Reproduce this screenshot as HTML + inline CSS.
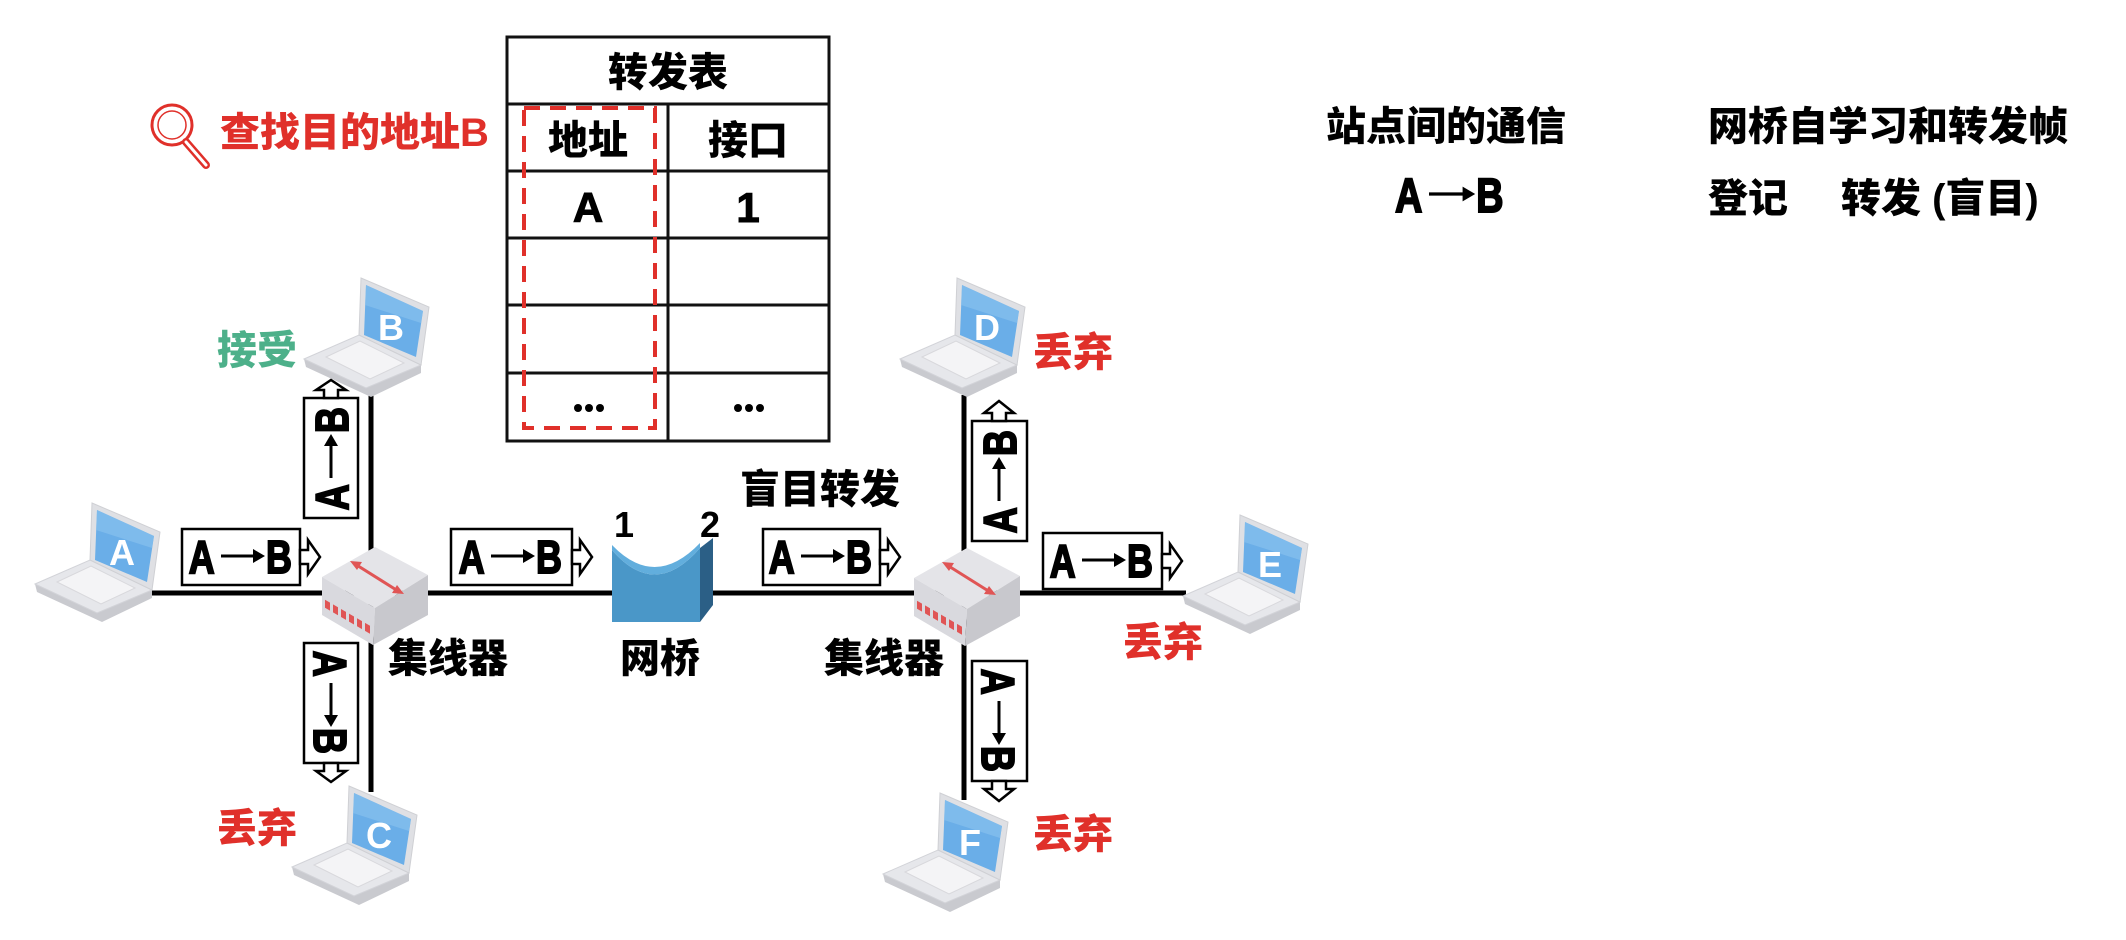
<!DOCTYPE html>
<html><head><meta charset="utf-8"><style>
html,body{margin:0;padding:0;background:#fff}
svg{display:block}
text{font-family:"Liberation Sans","Noto Sans CJK SC",sans-serif;font-weight:900}
</style></head><body>
<svg width="2126" height="940" viewBox="0 0 2126 940" xmlns="http://www.w3.org/2000/svg">
<defs>
<g id="lap">
  <polygon points="2,92 67,122 117,98 117,90 62,113 0,84" fill="#c9cacf"/>
  <polygon points="0,84 55,60 117,90 62,113" fill="#e6e7eb" stroke="#d2d3d8"/>
  <polygon points="22,82 56,66 100,88 66,104" fill="#f4f4f6" stroke="#d8d8dc"/>
  <polygon points="57,3 125,32 117,90 55,60" fill="#dfe0e4" stroke="#cfd0d4"/>
  <polygon points="62,10 119,36 112,82 60,60" fill="#6aaee8"/>
  <polygon points="62,10 119,36 117,48 61,30" fill="#8cc3ef" opacity="0.6"/>
</g>
<g id="hub">
  <polygon points="0,30 53,0 106,28 53,61" fill="#e4e4e8"/>
  <polygon points="0,30 53,61 51,98 0,68" fill="#d9d9de"/>
  <polygon points="53,61 106,28 106,68 51,98" fill="#c8c8cd"/>
  <line x1="33" y1="17" x2="76" y2="44" stroke="#e05555" stroke-width="3"/>
  <polygon points="28,14 40,15 35,23" fill="#e05555"/>
  <polygon points="82,47 70,46 75,38" fill="#e05555"/>
  <g fill="#e05555">
    <rect x="3" y="53" width="5" height="8" transform="skewY(30) translate(0,-2)"/>
    <rect x="11" y="53" width="5" height="8" transform="skewY(30) translate(0,-2)"/>
    <rect x="19" y="53" width="5" height="8" transform="skewY(30) translate(0,-2)"/>
    <rect x="27" y="53" width="5" height="8" transform="skewY(30) translate(0,-2)"/>
    <rect x="35" y="53" width="5" height="8" transform="skewY(30) translate(0,-2)"/>
    <rect x="43" y="53" width="5" height="8" transform="skewY(30) translate(0,-2)"/>
  </g>
</g>
<g id="ab">
  <g transform="scale(0.78,1)" font-size="46" fill="#000" stroke="#000" stroke-width="2" font-family="Liberation Sans, sans-serif" font-weight="700">
    <text x="-67" y="17">A</text>
    <text x="32" y="17">B</text>
  </g>
  <line x1="-20" y1="0" x2="18" y2="0" stroke="#000" stroke-width="3"/>
  <polygon points="12,-7 24,0 12,7" fill="#000"/>
</g>
</defs>

<!-- table -->
<g stroke="#111" stroke-width="3" fill="none">
  <rect x="507" y="37" width="322" height="404"/>
  <line x1="507" y1="104" x2="829" y2="104"/>
  <line x1="507" y1="171" x2="829" y2="171"/>
  <line x1="507" y1="238" x2="829" y2="238"/>
  <line x1="507" y1="305" x2="829" y2="305"/>
  <line x1="507" y1="373" x2="829" y2="373"/>
  <line x1="668" y1="104" x2="668" y2="441"/>
</g>
<rect x="524" y="108" width="131" height="320" fill="none" stroke="#e0302a" stroke-width="4" stroke-dasharray="16,10"/>
<g font-size="40" text-anchor="middle" fill="#000">
  <text x="668" y="86">转发表</text>
  <text x="588" y="154">地址</text>
  <text x="748" y="154">接口</text>
  <text x="588" y="222" font-size="42" stroke="#000" stroke-width="1">A</text>
  <text x="748" y="222" font-size="42" stroke="#000" stroke-width="1">1</text>
</g>
<g fill="#000">
  <circle cx="578" cy="408" r="4"/><circle cx="589" cy="408" r="4"/><circle cx="600" cy="408" r="4"/>
  <circle cx="738" cy="408" r="4"/><circle cx="749" cy="408" r="4"/><circle cx="760" cy="408" r="4"/>
</g>
<!-- magnifier -->
<circle cx="172" cy="125" r="20" fill="none" stroke="#e0302a" stroke-width="3"/>
<circle cx="172" cy="125" r="14" fill="none" stroke="#e0302a" stroke-width="1.5"/>
<line x1="186" y1="142" x2="206" y2="165" stroke="#e0302a" stroke-width="8" stroke-linecap="round"/>
<line x1="186" y1="142" x2="206" y2="165" stroke="#fff" stroke-width="3" stroke-linecap="round"/>
<text x="220" y="146" font-size="40" fill="#e0302a">查找目的地址B</text>

<!-- right texts -->
<g font-size="40" fill="#000">
  <text x="1326" y="140">站点间的通信</text>
  <text x="1708" y="140">网桥自学习和转发帧</text>
  <text x="1708" y="212">登记</text>
  <text x="1841" y="212">转发 (盲目)</text>
</g>
<use href="#ab" transform="translate(1450,194) scale(1.05)"/>

<!-- lines -->
<g stroke="#000" stroke-width="5">
  <line x1="150" y1="593" x2="1186" y2="593"/>
  <line x1="371" y1="393" x2="371" y2="792"/>
  <line x1="964" y1="395" x2="964" y2="800"/>
</g>

<!-- laptops -->
<g font-size="36" fill="#fff" text-anchor="middle">
  <use href="#lap" x="35" y="500"/><text x="122" y="565">A</text>
  <use href="#lap" x="304" y="275"/><text x="391" y="340">B</text>
  <use href="#lap" x="292" y="783"/><text x="379" y="848">C</text>
  <use href="#lap" x="900" y="275"/><text x="987" y="340">D</text>
  <use href="#lap" x="1183" y="512"/><text x="1270" y="577">E</text>
  <use href="#lap" x="883" y="790"/><text x="970" y="855">F</text>
</g>

<!-- hubs -->
<use href="#hub" x="322" y="547"/>
<use href="#hub" x="914" y="548"/>

<!-- bridge -->
<path d="M612,550 Q655,600 700,548 L700,622 L612,622 Z" fill="#4a97c8"/>
<path d="M612,550 Q655,600 700,548 L700,543 Q655,590 612,545 Z" fill="#62aedd"/>
<polygon points="700,548 713,538 713,605 700,622" fill="#2b5f86"/>

<g font-size="40" fill="#000">
  <text x="388" y="672">集线器</text>
  <text x="824" y="672">集线器</text>
  <text x="620" y="672">网桥</text>
  <text x="740" y="503">盲目转发</text>
  <text x="614" y="537" font-size="36">1</text>
  <text x="700" y="537" font-size="36">2</text>
</g>
<g font-size="40" fill="#e0302a">
  <text x="217" y="842">丢弃</text>
  <text x="1033" y="366">丢弃</text>
  <text x="1123" y="656">丢弃</text>
  <text x="1033" y="848">丢弃</text>
</g>
<text x="217" y="364" font-size="40" fill="#4db08a">接受</text>

<!-- horizontal arrow boxes -->
<g stroke="#000" stroke-width="2.5" fill="#fff">
  <rect x="182" y="529" width="118" height="56"/>
  <polygon points="300,550 308,550 308,540 320,557 308,574 308,564 300,564"/>
  <rect x="451" y="529" width="121" height="56"/>
  <polygon points="572,550 580,550 580,540 592,557 580,574 580,564 572,564"/>
  <rect x="763" y="529" width="117" height="56"/>
  <polygon points="880,550 888,550 888,540 900,557 888,574 888,564 880,564"/>
  <rect x="1043" y="533" width="119" height="56"/>
  <polygon points="1162,554 1170,554 1170,544 1182,561 1170,578 1170,568 1162,568"/>
</g>
<use href="#ab" transform="translate(241,556)"/>
<use href="#ab" transform="translate(511,556)"/>
<use href="#ab" transform="translate(821,556)"/>
<use href="#ab" transform="translate(1102,560)"/>

<!-- vertical arrow boxes -->
<g stroke="#000" stroke-width="2.5" fill="#fff">
  <rect x="304" y="398" width="54" height="120"/>
  <polygon points="324,398 324,390 316,390 331,380 346,390 338,390 338,398"/>
  <rect x="304" y="643" width="54" height="120"/>
  <polygon points="324,763 324,771 316,771 331,782 346,771 338,771 338,763"/>
  <rect x="972" y="421" width="55" height="120"/>
  <polygon points="992,421 992,413 984,413 999,401 1014,413 1006,413 1006,421"/>
  <rect x="972" y="661" width="55" height="120"/>
  <polygon points="992,781 992,789 984,789 999,801 1014,789 1006,789 1006,781"/>
</g>
<use href="#ab" transform="translate(331,458) rotate(-90)"/>
<use href="#ab" transform="translate(331,703) rotate(90)"/>
<use href="#ab" transform="translate(999,481) rotate(-90)"/>
<use href="#ab" transform="translate(999,721) rotate(90)"/>
</svg>
</body></html>
